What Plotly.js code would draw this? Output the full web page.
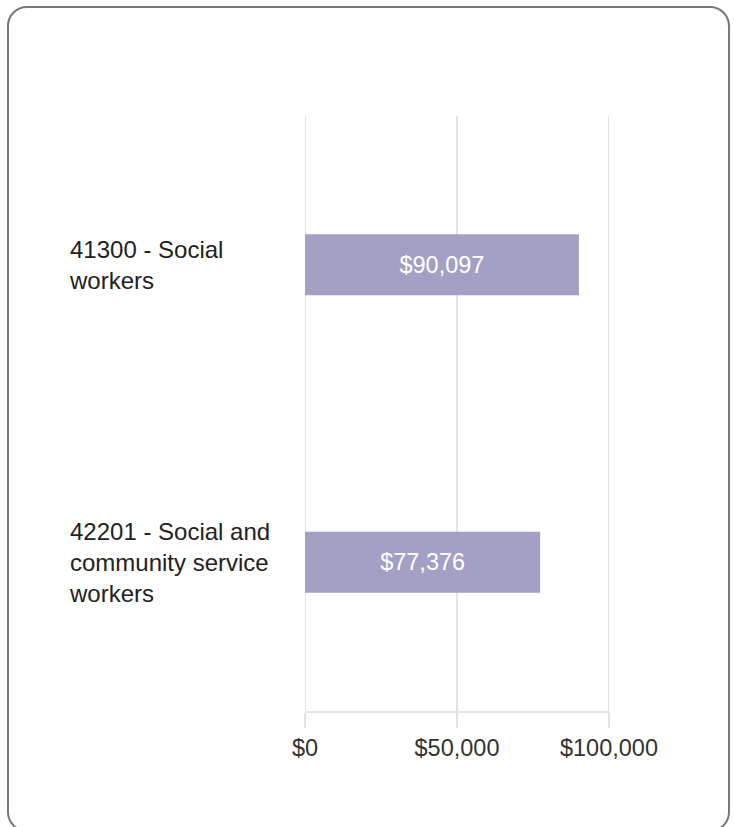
<!DOCTYPE html>
<html>
<head>
<meta charset="utf-8">
<script src="https://cdn.plot.ly/plotly-3.0.1.min.js"></script>
<style>
  html, body { margin: 0; padding: 0; background: #fff; }
  #wrap { position: relative; width: 734px; height: 827px; overflow: hidden; }
  #chart { position: absolute; left: 0; top: 0; width: 734px; height: 827px; }
  #frame { position: absolute; left: 7px; top: 6px; width: 719px; height: 822px;
           border: 2px solid #777; border-radius: 20px; pointer-events: none; }
</style>
</head>
<body>
<div id="wrap">
  <div id="chart"></div>
  <div id="frame"></div>
</div>
<script>
const categories = ["41300 - Social workers", "42201 - Social and community service workers"];
const categoryLabels = ["41300 - Social<br>workers", "42201 - Social and<br>community service<br>workers"];
const values = [90097, 77376];
const tickVals = [0, 50000, 100000];
const tickText = ["$0", "$50,000", "$100,000"];

const FONT = "Arial, 'Liberation Sans', sans-serif";
const GRID = "#e3e3e3";

const trace = {
  type: "bar",
  orientation: "h",
  y: categories,
  x: values,
  width: 0.205,
  marker: { color: "#a2a1c5" },
  hoverinfo: "none",
  text: values.map(v => "$" + v.toLocaleString("en-US")),
  textposition: "inside",
  insidetextanchor: "middle",
  textfont: { family: FONT, size: 23.5, color: "#ffffff" },
  cliponaxis: false
};

const annotations = categories.map((c, i) => ({
  xref: "paper", yref: "y", x: -0.773, y: c, xshift: -3,
  xanchor: "left", yanchor: "middle", align: "left",
  text: categoryLabels[i], showarrow: false,
  font: { family: FONT, size: 24, color: "#222" }
}));

const shapes = tickVals.map(v => ({
  type: "line", xref: "x", yref: "paper",
  x0: v, x1: v, y0: 0, y1: 1,
  line: { color: GRID, width: 2 }, layer: "below"
}));

const layout = {
  width: 734, height: 827,
  margin: { l: 305, r: 125, t: 116, b: 116 },
  paper_bgcolor: "rgba(0,0,0,0)",
  plot_bgcolor: "rgba(0,0,0,0)",
  showlegend: false,
  font: { family: FONT, color: "#333" },
  xaxis: {
    range: [0, 100000],
    tickvals: tickVals, ticktext: tickText,
    showgrid: false,
    zeroline: false,
    showline: true, linecolor: GRID, linewidth: 2,
    ticks: "outside", ticklen: 15, tickcolor: GRID, tickwidth: 2,
    tickfont: { family: FONT, size: 23.5, color: "#333" },
    fixedrange: true
  },
  yaxis: {
    type: "category",
    autorange: "reversed",
    showticklabels: false,
    showgrid: false, zeroline: false, showline: false, ticks: "",
    fixedrange: true
  },
  shapes: shapes,
  annotations: annotations
};

Plotly.newPlot("chart", [trace], layout, { displayModeBar: false, staticPlot: true });
</script>
</body>
</html>
